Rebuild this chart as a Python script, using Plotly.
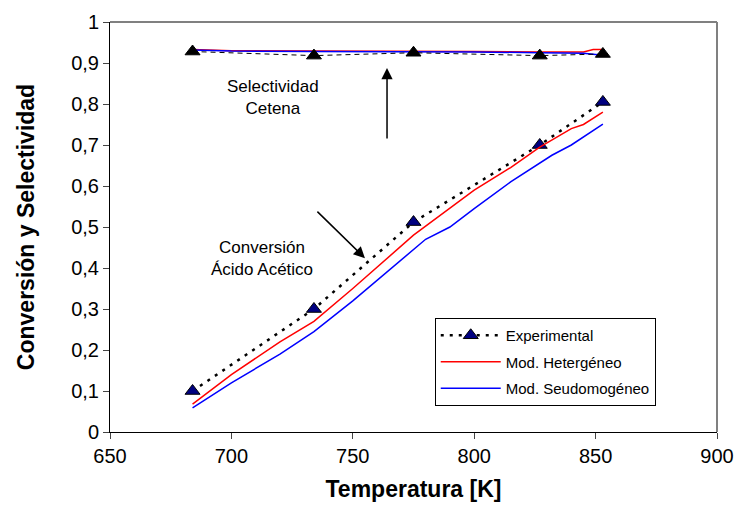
import plotly.graph_objects as go

# Experimental data
T_exp = [684, 734, 775, 827, 853]
conv_exp = [0.10, 0.30, 0.512, 0.70, 0.805]
sel_exp = [0.928, 0.918, 0.925, 0.918, 0.922]

# Heterogeneous model
T_het = [684, 700, 720, 734, 750, 775, 800, 815, 827, 840, 845, 853]
conv_het = [0.068, 0.14, 0.22, 0.27, 0.35, 0.48, 0.59, 0.645, 0.695, 0.74, 0.75, 0.78]
T_het_s = [684, 700, 734, 775, 800, 827, 845, 849, 853]
sel_het = [0.933, 0.930, 0.929, 0.929, 0.928, 0.927, 0.927, 0.933, 0.933]

# Pseudo-homogeneous model
T_ps = [684, 700, 720, 734, 750, 760, 780, 790, 800, 815, 827, 832, 840, 853]
conv_ps = [0.059, 0.12, 0.19, 0.245, 0.32, 0.37, 0.47, 0.50, 0.545, 0.61, 0.655, 0.675, 0.70, 0.751]
T_ps_s = [684, 700, 734, 775, 800, 827, 845, 853]
sel_ps = [0.932, 0.929, 0.928, 0.928, 0.927, 0.925, 0.924, 0.919]

yticks = [0, 0.1, 0.2, 0.3, 0.4, 0.5, 0.6, 0.7, 0.8, 0.9, 1]
yticklabels = ["0", "0,1", "0,2", "0,3", "0,4", "0,5", "0,6", "0,7", "0,8", "0,9", "1"]
xticks = [650, 700, 750, 800, 850, 900]

fig = go.Figure()

fig.add_trace(go.Scatter(x=T_exp, y=conv_exp, mode="lines+markers", name="Experimental",
                         legendgroup="a",
                         line=dict(color="black", width=2.5, dash="3px,6px"),
                         marker=dict(symbol="triangle-up", size=13, color="#000080",
                                     line=dict(color="black", width=1))))
fig.add_trace(go.Scatter(x=T_het, y=conv_het, mode="lines", name="Mod. Hetergéneo",
                         legendgroup="b",
                         line=dict(color="#ff0000", width=1.5)))
fig.add_trace(go.Scatter(x=T_ps, y=conv_ps, mode="lines", name="Mod. Seudomogéneo",
                         legendgroup="c",
                         line=dict(color="#0000ff", width=1.5)))
fig.add_trace(go.Scatter(x=T_het_s, y=sel_het, mode="lines", showlegend=False,
                         line=dict(color="#ff0000", width=1.5)))
fig.add_trace(go.Scatter(x=T_ps_s, y=sel_ps, mode="lines", showlegend=False,
                         line=dict(color="#0000ff", width=1.5)))
fig.add_trace(go.Scatter(x=T_exp, y=sel_exp, mode="lines+markers", showlegend=False,
                         line=dict(color="black", width=1, dash="5px,4px"),
                         marker=dict(symbol="triangle-up", size=13, color="black",
                                     line=dict(color="black", width=1))))

fig.update_layout(
    width=737, height=517,
    margin=dict(l=110, r=20, t=22, b=85),
    plot_bgcolor="white", paper_bgcolor="white",
    font=dict(family="Liberation Sans, Arial, sans-serif", color="black", size=15),
    xaxis=dict(range=[650, 900], tickvals=xticks, ticks="outside", ticklen=6, automargin=False,
               showline=True, linecolor="black", linewidth=1, showgrid=False, zeroline=False,
               tickfont=dict(size=20),
               title=dict(text="<b>Temperatura [K]</b>", font=dict(size=23), standoff=14)),
    yaxis=dict(range=[0, 1], tickvals=yticks, ticktext=yticklabels, ticks="outside", ticklen=6,
               automargin=False,
               showline=True, linecolor="black", linewidth=1, showgrid=False, zeroline=False,
               tickfont=dict(size=20),
               title=dict(text="<b>Conversión y Selectividad</b>", font=dict(size=23), standoff=30)),
    legend=dict(x=0.535, y=0.278, xanchor="left", yanchor="top",
                bordercolor="black", borderwidth=1, bgcolor="white",
                font=dict(size=15), tracegroupgap=4, itemwidth=60),
    showlegend=True,
)

# gray frame top and right
fig.add_shape(type="line", xref="paper", yref="paper", x0=0, x1=1, y0=1, y1=1,
              line=dict(color="#808080", width=2))
fig.add_shape(type="line", xref="paper", yref="paper", x0=1, x1=1, y0=0, y1=1,
              line=dict(color="#808080", width=2))

fig.add_annotation(x=717, y=0.817, xref="x", yref="y", text="Selectividad<br>Cetena",
                   showarrow=False, font=dict(size=17))
fig.add_annotation(x=712.6, y=0.424, xref="x", yref="y", text="Conversión<br>Ácido Acético",
                   showarrow=False, font=dict(size=17))
fig.add_annotation(x=764.1, y=0.888, ax=764.1, ay=0.712, xref="x", yref="y", axref="x", ayref="y",
                   text="", showarrow=True, arrowhead=2, arrowsize=1.5, arrowwidth=1.5, arrowcolor="black")
fig.add_annotation(x=755, y=0.424, ax=734.8, ay=0.541, xref="x", yref="y", axref="x", ayref="y",
                   text="", showarrow=True, arrowhead=2, arrowsize=1.5, arrowwidth=1.5, arrowcolor="black")

fig.write_html("out.html")
